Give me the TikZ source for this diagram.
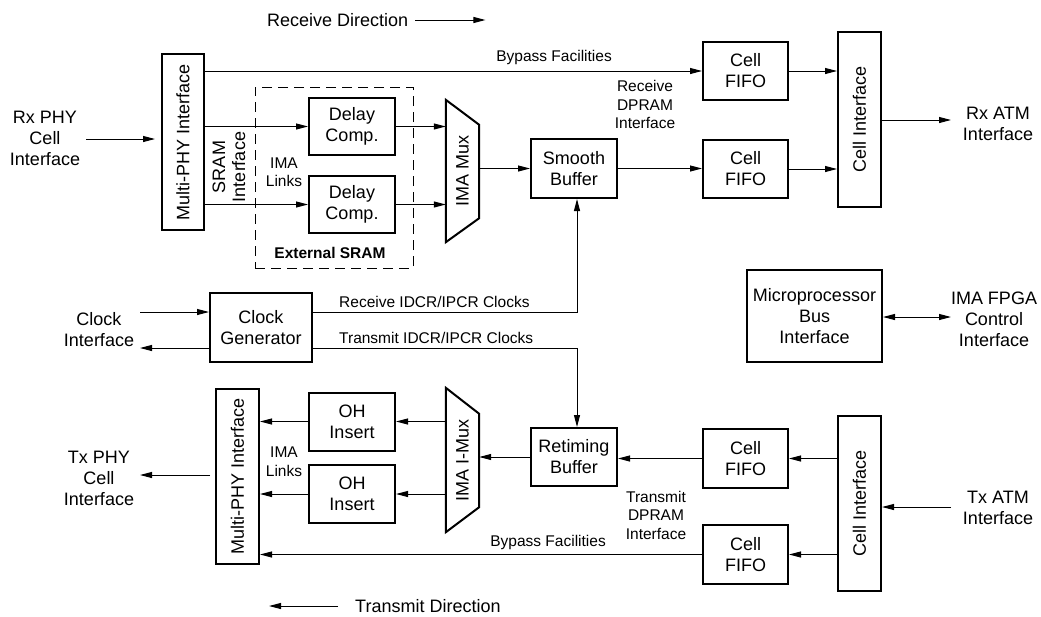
\documentclass[tikz,border=0pt]{standalone}
\usepackage{fontspec}
\setmainfont{Liberation Sans}
\usetikzlibrary{arrows.meta}
\begin{document}
\begin{tikzpicture}[x=1pt,y=-1pt,
  box/.style={draw, line width=2pt, inner sep=0pt, align=center, font=\fontsize{18}{21}\selectfont},
  ghost/.style={inner sep=0pt, minimum width=33pt},
  lbl/.style={inner sep=0pt, align=center, font=\fontsize{18}{21}\selectfont},
  sml/.style={inner sep=0pt, align=center, font=\fontsize{15.5}{18.5}\selectfont},
  tip/.tip={Triangle[length=12pt,width=6pt]},
  arr/.style={line width=1pt, -tip},
  ln/.style={line width=1pt},
  trap/.style={line width=2pt, line join=miter}]
\fill[white] (0,0) rectangle (1041,616);
\useasboundingbox (0,0) rectangle (1041,616);

% ---------- receive path ----------
\node[lbl, anchor=west] (rxdir) at (267,20) {Receive Direction};
\draw[arr] ([xshift=7pt]rxdir.east) -- ++(70,0);

\node[lbl] (rxphytxt) at (45,138) {Rx PHY\\Cell\\Interface};
\coordinate (rxin) at (86,139);
\coordinate (rxinend) at (155,139);
\draw[arr] (rxin) -- (rxinend);

\node[box, minimum width=42pt, minimum height=176pt] (rxphy) at (183,142) {};
\node[lbl, rotate=90] at (rxphy) {Multi-PHY Interface};

\node[draw, line width=1pt, dash pattern=on 10pt off 6pt, minimum width=158pt, minimum height=181pt, inner sep=0pt] (sram) at (334,177.5) {};
\node[sml, font=\fontsize{15.5}{18.5}\selectfont\bfseries] at (330,253) {External SRAM};
\node[lbl, rotate=90, font=\fontsize{18}{20}\selectfont] at (229,167) {SRAM\\Interface};
\node[sml] at (284,172) {IMA\\Links};

\node[box, minimum width=86pt, minimum height=57pt] (d1) at (352,126.5) {Delay\\Comp.};
\node[box, minimum width=86pt, minimum height=57pt] (d2) at (352,204.5) {Delay\\Comp.};

\node[ghost, minimum height=142pt] (rmux) at (462.5,171) {};
\draw[trap] (rmux.north west) -- ([yshift=-25pt]rmux.north east) -- ([yshift=24pt]rmux.south east) -- (rmux.south west) -- cycle;
\node[lbl, rotate=90] at (rmux) {IMA Mux};

\node[box, minimum width=86pt, minimum height=59pt] (smooth) at (574,168.5) {Smooth\\Buffer};
\node[box, minimum width=85pt, minimum height=58pt] (fifo1) at (745.5,71) {Cell\\FIFO};
\node[box, minimum width=85pt, minimum height=58pt] (fifo2) at (745.5,169) {Cell\\FIFO};
\node[box, minimum width=43pt, minimum height=175pt] (rxcell) at (859.5,119.5) {};
\node[lbl, rotate=90] at (rxcell) {Cell Interface};
\node[lbl] (rxatm) at (998,124) {Rx ATM\\Interface};
\coordinate (rxout) at (951,120);

\draw[arr] (rxphy.east |- fifo1.west) -- (fifo1.west);
\node[sml, anchor=east] at (612,57) {Bypass Facilities};
\node[sml] at (645,104.5) {Receive\\DPRAM\\Interface};
\draw[arr] (rxphy.east |- d1.west) -- (d1.west);
\draw[arr] (rxphy.east |- d2.west) -- (d2.west);
\draw[arr] (d1.east) -- (d1.east -| rmux.west);
\draw[arr] (d2.east) -- (d2.east -| rmux.west);
\draw[arr] (rmux.east |- smooth.west) -- (smooth.west);
\draw[arr] (smooth.east) -- (smooth.east -| fifo2.west);
\draw[arr] (fifo1.east) -- (fifo1.east -| rxcell.west);
\draw[arr] (fifo2.east) -- (fifo2.east -| rxcell.west);
\draw[arr] (rxcell.east |- rxout) -- (rxout);

% ---------- clock ----------
\node[box, minimum width=102pt, minimum height=69pt] (clk) at (261,327.5) {Clock\\Generator};
\node[lbl] at (99,330) {Clock\\Interface};
\coordinate (ckin) at (140,312);
\coordinate (ckout) at (140,348);
\draw[arr] (ckin) -- (ckin -| clk.west);
\draw[arr] (clk.west |- ckout) -- (ckout);
\draw[arr] ([yshift=15.5pt]clk.east) -| ([xshift=3pt]smooth.south);
\node[sml, anchor=west] at (339,302) {Receive IDCR/IPCR Clocks};

% ---------- microprocessor ----------
\node[box, minimum width=135pt, minimum height=92pt] (micro) at (814.5,316) {Microprocessor\\Bus\\Interface};
\node[lbl] at (994,319) {IMA FPGA\\Control\\Interface};
\coordinate (fpga) at (951,317);
\draw[line width=1pt, tip-tip] (micro.east |- fpga) -- (fpga);

% ---------- transmit path ----------
\node[box, minimum width=86pt, minimum height=58pt] (retime) at (574,457) {Retiming\\Buffer};
\draw[arr] ([yshift=-20.5pt]clk.east) -| ([xshift=3pt]retime.north);
\node[sml, anchor=west] at (339,338) {Transmit IDCR/IPCR Clocks};

\node[box, minimum width=43pt, minimum height=175pt] (txphy) at (237.5,476.5) {};
\node[lbl, rotate=90] at (txphy) {Multi-PHY Interface};
\node[box, minimum width=86pt, minimum height=58pt] (oh1) at (352,421.5) {OH\\Insert};
\node[box, minimum width=86pt, minimum height=58pt] (oh2) at (352,494) {OH\\Insert};
\node[sml] at (284,461.5) {IMA\\Links};

\node[ghost, minimum height=144pt] (rimux) at (462.5,460) {};
\draw[trap] (rimux.north west) -- ([yshift=-26pt]rimux.north east) -- ([yshift=25pt]rimux.south east) -- (rimux.south west) -- cycle;
\node[lbl, rotate=90] at (rimux) {IMA I-Mux};

\node[box, minimum width=85pt, minimum height=59pt] (tf1) at (745.5,458.5) {Cell\\FIFO};
\node[box, minimum width=85pt, minimum height=59pt] (tf2) at (745.5,554.5) {Cell\\FIFO};
\node[box, minimum width=43pt, minimum height=175pt] (txcell) at (859.5,503.5) {};
\node[lbl, rotate=90] at (txcell) {Cell Interface};
\node[lbl] at (998,507.5) {Tx ATM\\Interface};
\coordinate (txin) at (951,507);

\node[lbl] at (99,478) {Tx PHY\\Cell\\Interface};
\coordinate (txphyout) at (140,475);
\coordinate (txphystart) at (210,475);

\draw[arr] (txin) -- (txin -| txcell.east);
\draw[arr] (txcell.west |- tf1.east) -- (tf1.east);
\draw[arr] (txcell.west |- tf2.east) -- (tf2.east);
\draw[arr] (tf1.west) -- (tf1.west -| retime.east);
\draw[arr] (retime.west) -- (retime.west -| rimux.east);
\draw[arr] (rimux.west |- oh1.east) -- (oh1.east);
\draw[arr] (rimux.west |- oh2.east) -- (oh2.east);
\draw[arr] (oh1.west) -- (oh1.west -| txphy.east);
\draw[arr] (oh2.west) -- (oh2.west -| txphy.east);
\draw[arr] (tf2.west) -- (tf2.west -| txphy.east);
\node[sml, anchor=east] at (606,542) {Bypass Facilities};
\node[sml] at (656,515) {Transmit\\DPRAM\\Interface};
\draw[arr] (txphystart) -- (txphyout);

\node[lbl, anchor=west] (txdir) at (355,606) {Transmit Direction};
\draw[arr] ([xshift=-17pt]txdir.west) -- ++(-69,0);
\end{tikzpicture}
\end{document}
